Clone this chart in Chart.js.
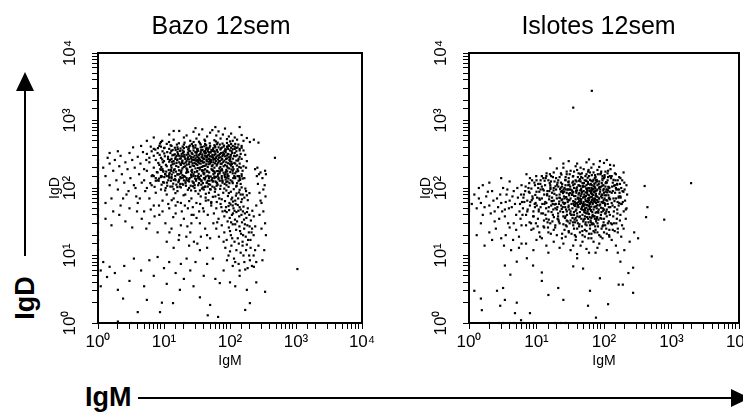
<!DOCTYPE html>
<html>
<head>
<meta charset="utf-8">
<script src="https://cdn.jsdelivr.net/npm/chart.js@4.4.1/dist/chart.umd.min.js"></script>
<style>
  html, body { margin: 0; padding: 0; background: #fff; }
  body { width: 743px; height: 412px; position: relative; overflow: hidden; font-family: "Liberation Sans", Arial, sans-serif; }
  canvas { position: absolute; top: 0; }
  #bazo { left: 40px; }
  #islotes { left: 411px; }
  .big { position: absolute; font-weight: bold; font-size: 27px; line-height: 30px; color: #000; white-space: nowrap; }
  #bigIgD { left: 25px; top: 298px; transform: translate(-50%, -50%) rotate(-90deg); }
  #bigIgM { left: 85px; top: 382px; }
  svg { position: absolute; left: 0; top: 0; }
</style>
</head>
<body>
<canvas id="bazo" width="362" height="375"></canvas>
<canvas id="islotes" width="375" height="375"></canvas>
<div class="big" id="bigIgD">IgD</div>
<div class="big" id="bigIgM">IgM</div>
<svg width="743" height="412">
  <line x1="25" y1="256" x2="25" y2="86" stroke="#000" stroke-width="2"/>
  <polygon points="25,72 16,91 34,91" fill="#000"/>
  <line x1="138" y1="398" x2="734" y2="398" stroke="#000" stroke-width="2"/>
  <polygon points="750,398 731,389 731,407" fill="#000"/>
</svg>
<script>
// tick values and labels (same for both axes)
const decadeTicks = [1, 10, 100, 1000, 10000];
const decadeLabels = ["10\u2070", "10\u00b9", "10\u00b2", "10\u00b3", "10\u2074"];
const titles = ["Bazo 12sem", "Islotes 12sem"];

// Bazo 12sem: [IgM, IgD]
const bazo = [
  // dense core
  [11,210],[11.5,290],[12,245],[12.5,330],[13,200],[13,270],[13.5,225],[14,310],[14,250],[14.5,190],
  [15,285],[15.5,235],[16,340],[16,265],[16.5,205],[17,300],[17,240],[17.5,355],[18,220],[18,275],
  [18.5,320],[19,195],[19,255],[19.5,295],[20,230],[20,345],[21,270],[21,210],[22,310],[22,250],
  [22.5,188],[23,285],[23,335],[24,225],[24,265],[24.5,300],[25,350],[25,205],[26,245],[26,290],
  [27,320],[27,215],[28,260],[28,360],[29,235],[29,300],[30,195],[30,275],[31,330],[31,250],
  [32,220],[32,290],[33,355],[33,240],[34,270],[34,310],[35,200],[35,260],[36,340],[36,230],
  [37,285],[38,250],[38,315],[39,210],[40,275],[40,345],[41,240],[42,300],[42,190],[43,330],
  [44,260],[44,225],[45,290],[46,355],[46,205],[47,270],[48,315],[48,245],[50,230],[50,295],
  [51,340],[52,260],[53,210],[54,310],[55,280],[56,240],[57,350],[58,200],[59,270],[60,320],
  [61,250],[62,290],[64,225],[65,340],[66,265],[68,305],[69,195],[70,250],[72,285],[73,330],
  [75,230],[76,270],[78,310],[80,210],[82,255],[84,295],[86,340],[88,240],[90,275],[92,200],
  [95,315],[98,260],[100,225],[102,290],[105,245],[108,330],[110,205],[12,380],[18,175],[26,180],
  [38,178],[55,182],[70,175],[88,185],[15,365],[32,370],[47,380],[63,365],[85,375],[100,360],
  [8.2,235],[8.6,310],[9.1,205],[9.4,265],[9.8,175],[10.3,295],[10.7,220],[11.2,340],[11.8,185],[12.3,260],
  [12.8,215],[13.4,305],[13.9,170],[14.3,230],[14.8,270],[8.8,190],[10.1,325],[11.5,270],[12.9,355],[14.6,315],
  [9.6,240],[13.2,245],
  [15.3,212],[15.8,258],[16.3,318],[16.9,183],[17.4,272],[17.8,228],[18.3,296],[18.9,248],[19.4,332],[19.9,205],
  [20.6,286],[21.3,238],[21.9,195],[22.7,268],[23.4,316],[24.2,242],[24.8,205],[25.6,275],[26.3,328],[27.1,232],
  [27.8,283],[28.6,212],[29.3,258],[29.8,340],[16.2,375],[19.2,410],[23.7,385],[27.4,420],[17.1,160],[21.7,168],
  [25.9,155],[29.1,172],[15.6,300],[18.7,235],[22.1,222],[26.7,262],[20.3,310],[24.1,355],
  [30.4,228],[31.2,306],[31.9,262],[32.7,198],[33.5,282],[34.3,232],[35.2,318],[36.1,252],[37.3,205],[38.2,296],
  [39.1,238],[40.2,268],[41.4,325],[42.6,215],[43.7,282],[44.9,248],[46.2,305],[47.6,225],[48.8,272],[50.3,335],
  [51.7,242],[53.2,290],[54.6,218],[56.1,262],[57.8,308],[59.2,232],[34.8,188],[39.8,182],[45.5,176],[52.4,190],
  [58.5,175],[32.2,380],[37.8,405],[43.2,375],[49.1,398],[55.3,372],[31.5,345],[36.7,365],[42.1,352],[47.3,340],
  [53.7,355],[58.9,345],[33.1,250],[38.7,275],[44.2,295],[49.7,258],[55.8,285],[40.6,212],
  [61.3,275],[62.8,215],[64.7,302],[66.2,238],[68.1,282],[70.3,318],[72.2,228],[74.6,262],[76.8,296],[79.2,242],
  [81.7,320],[84.3,218],[87.2,268],[90.1,302],[93.4,232],[96.7,285],[99.8,248],[103,310],[107,228],[111,272],
  [116,235],[121,295],[127,215],[133,255],[140,290],[146,200],[65.4,178],[75.3,190],[86.1,172],[97.4,195],
  [110,180],[63.6,360],[72.9,385],[82.6,352],[94.1,378],[106,350],[118,330],[128,305],[68.7,250],[78.3,335],
  [89.7,210],[101,270],[113,190],[125,255],[138,205],[71.5,205],[92.3,320],[104,215],
  // lower half of the band
  [8.3,128],[9.2,112],[10.1,145],[11.1,120],[12.2,168],[13.4,105],[14.7,135],[16.1,158],[17.6,115],[19.3,142],
  [21.2,125],[23.2,172],[25.4,108],[27.9,150],[30.6,128],[33.5,162],[36.7,112],[40.2,140],[44.1,120],[48.3,170],
  [53,132],[58,148],[63.6,118],[69.7,165],[76.4,130],[83.7,145],[91.7,160],[9.7,178],[12.8,185],[15.2,175],
  [18.4,182],[22.3,176],[26.7,186],[31.8,178],[37.9,184],[45.1,176],[53.8,186],[64,178],[76.2,182],[90.8,176],
  [10.6,100],[14,96],[18,102],[23,94],[29,100],[35,92],[42,104],[50,96],[20,130],[28,118],
  [35,135],[46,152],[60,125],[75,150],[88,122],[11.8,150],[16.8,128],[24.5,140],[32.5,150],[41,165],
  [6.2,118],[6.7,155],[7.2,104],[7.8,172],[8.4,138],[9,186],[9.7,122],[10.4,160],[11.2,108],[12,142],
  [12.9,178],[13.8,116],[14.8,150],[15.9,103],[17,133],[18.2,168],[19.5,112],[20.9,147],[22.4,185],[24,125],
  [25.7,157],[27.5,106],[29.5,138],[31.6,175],[33.8,118],[36.2,152],[38.8,102],[41.5,134],[44.5,180],[47.6,114],
  [51,148],[54.7,126],[58.6,166],[62.7,108],[67.2,142],[72,183],[77.1,120],[82.6,155],[88.5,110],[94.8,138],
  [101,172],[108,125],[116,150],[124,105],[133,178],[142,132],[150,160],[7.5,128],[9.3,148],[11.6,130],
  [14.2,185],[16.5,122],[19,155],[22,132],[26.5,170],[30,150],[34.5,135],[39.5,168],[43,148],[49,128],
  [56,178],[61,145],[70,128],[80,168],[92,150],[105,188],[120,165],[137,150],[10.8,175],[13.1,158],
  [17.7,145],[21.5,108],[28.2,120],[37,126],[46,105],[66,160],[86,133],[98,118],[112,140],[128,118],
  // upper half of the band
  [6.3,410],[7.4,370],[8.7,455],[10.2,395],[11.9,480],[13.5,365],[15.7,440],[17.8,385],[20.5,470],[23.3,372],
  [26.4,450],[29.9,398],[33.9,485],[38.4,368],[43.5,430],[49.3,460],[55.8,388],[63.2,445],[71.6,372],[81.1,425],
  [91.9,392],[104,450],[118,410],[134,440],[150,395],[9.4,500],[14.6,395],[19.1,360],[24.8,425],[31.8,375],
  [40.8,415],[52.4,365],[67.2,400],[86.3,368],[110,375],[140,360],[12.6,430],[22,405],[36,440],[46,385],
  [59,415],[77,455],[97,420],[125,390],[16.8,460],[28.1,480],[61,490],[100,490],[8.1,390],[42,500],
  // band around the core
  [5.5,180],[6,240],[6.5,150],[7,300],[7,200],[7.5,260],[8,170],[8,330],[8.5,220],[9,280],
  [9,145],[9.5,190],[10,250],[10,390],[10.5,160],[6,280],[7,380],[8.5,420],[9.5,350],[11,150],
  [13,140],[16,160],[20,150],[24,135],[28,160],[34,145],[40,160],[48,140],[56,160],[65,150],
  [75,140],[85,160],[95,150],[110,165],[120,140],[130,190],[140,230],[150,270],[160,210],[170,310],
  [180,250],[115,300],[125,350],[135,270],[145,320],[155,180],[120,230],[130,400],[110,420],[95,430],
  [80,410],[70,440],[60,400],[50,420],[42,450],[36,400],[30,430],[24,410],[20,440],[16,400],
  [13,420],[11,450],[28,395],[44,395],[58,430],[75,395],[90,410],[104,395],[118,380],[140,380],
  [160,360],[175,200],[150,150],[165,140],[140,140],[20,390],[35,460],[65,470],[90,465],[120,450],
  [150,420],[125,175],[5.5,320],[6.5,350],[7.5,140],[9,410],[12,160],[14,132],
  // upper sparse
  [5.5,500],[7,560],[9,480],[12,620],[14,520],[17,700],[20,560],[22,600],[25,500],[28,680],
  [31,540],[34,620],[38,740],[41,520],[45,580],[50,660],[54,720],[58,510],[62,600],[67,690],
  [72,540],[78,620],[84,760],[90,530],[96,580],[104,640],[110,500],[118,560],[128,520],[140,800],
  [150,610],[160,500],[180,550],[200,480],[230,520],[270,470],[60,800],[30,770],[14,700],
  // far left, incl. pile-up on the axis
  [1,260],[1,230],[1,200],[1,180],[1,160],[1,140],[1,120],[1,100],[1,85],[1,70],
  [1,58],[1,48],[1,38],[1,30],[1,22],[1,17],[1,12],[1,9],
  [1.2,200],[1.3,150],[1.4,280],[1.5,230],[1.5,110],[1.6,70],[1.7,180],[1.8,260],[1.9,130],[2,95],
  [2.1,210],[2.2,300],[2.3,160],[2.4,70],[2.5,120],[2.6,240],[2.8,190],[2.9,90],[3,330],[3.1,140],
  [3.3,260],[3.4,400],[3.5,110],[3.6,200],[3.8,75],[4,290],[4.2,160],[4.4,230],[4.6,120],[4.8,340],
  [5,190],[5.2,90],[5.4,260],[1.3,60],[1.7,45],[2.2,55],[3,50],[4,60],[5,45],[2,350],
  [4.5,420],[1.5,330],[2.7,80],[3.7,100],[4.3,70],
  [1.3,35],[1.6,28],[2.1,40],[2.6,32],[3.3,26],[3.9,45],[4.6,35],[5.4,25],[6.3,48],[7.2,38],
  [8.4,55],[9.5,45],
  // middle sparse
  [5,130],[5.5,100],[6,70],[6.5,110],[7,55],[7.5,85],[8,130],[8.5,40],[9,95],[9.5,65],
  [10,120],[10.5,30],[11,80],[12,50],[12.5,105],[13,25],[14,70],[15,130],[15,42],[16,90],
  [17,20],[18,60],[19,115],[20,35],[21,80],[22,140],[23,50],[24,100],[25,22],[26,70],
  [27,125],[28,40],[30,90],[31,60],[32,15],[33,110],[35,30],[36,75],[37,130],[39,50],
  [40,95],[42,25],[43,65],[45,120],[46,40],[48,85],[50,18],[52,60],[54,105],[56,30],
  [58,140],[60,75],[6,30],[8,22],[11,16],[14,13],[18,28],[24,14],[35,12],[45,13],
  [7,150],[9,150],[13,145],[18,140],[26,145],[33,140],[15,55],[26,30],[42,140],[55,125],
  [10.4,92],[11.6,58],[12.7,128],[13.8,37],[14.9,84],[16.1,62],[17.3,105],[18.6,45],[19.8,78],[21.2,118],
  [22.6,27],[24.1,64],[25.7,92],[27.3,52],[29.2,110],[31.1,36],[33.2,82],[35.3,58],[37.6,98],[40.1,45],
  [42.7,72],[44.9,20],[12.1,22],[16.7,17],[21.8,19],[28.4,16],[36.2,19],[15.4,112],[23.3,128],[30.7,135],
  [38.8,118],[13.1,66],[20.7,55],[34.1,45],[26.2,40],
  // diagonal IgM-high group
  [42,105],[46,128],[50,112],[54,140],[58,102],[62,122],[67,135],[72,108],[77,126],[83,115],
  [89,142],[95,104],[102,130],[110,118],[118,145],[126,108],[135,128],[145,115],[155,138],[48,148],
  [65,112],[92,125],[130,150],[150,102],
  [43,82],[47,66],[51,95],[55,74],[59,88],[63,62],[67,79],[71,97],[75,68],[79,85],
  [84,64],[88,92],[93,76],[98,60],[103,88],[108,72],[114,96],[120,65],[126,83],[133,70],
  [140,94],[148,62],[156,80],[165,72],[175,90],[186,66],[197,84],[52,62],[69,70],[82,98],
  [96,84],[111,63],[123,77],[137,86],[152,68],[171,98],[60,96],[105,68],[145,80],[180,78],
  [52,55],[57,42],[62,50],[67,35],[72,58],[77,45],[82,38],[87,52],[92,32],[97,47],
  [102,57],[107,40],[113,50],[119,34],[125,44],[131,56],[138,38],[145,48],[152,31],[160,53],
  [168,42],[177,36],[186,50],[196,40],[207,33],[218,46],[229,38],[64,31],[74,52],[89,44],
  [99,36],[111,42],[122,58],[134,46],[149,40],[163,34],[181,44],[95,54],[140,52],[117,46],
  [104,31],[84,46],[128,32],[157,45],[110,55],
  [62,25],[68,19],[75,28],[82,22],[89,17],[96,26],[103,20],[110,29],[117,16],[124,24],
  [131,18],[139,27],[147,21],[155,16],[164,25],[173,19],[183,28],[193,22],[204,17],[216,25],
  [228,20],[241,27],[80,16],[100,23],[120,29],[142,23],[168,29],[198,27],[108,18],[136,15],
  [158,20],[188,17],[212,22],
  [85,13],[95,10],[105,14],[115,9],[125,12],[135,7.5],[145,11],[155,14],[165,8],[175,12],
  [185,6.5],[195,10],[205,13],[215,7],[228,10],[240,12],[250,8],[140,6],[170,6.2],[120,8],
  [200,8.5],[160,10],[230,6.8],[100,11.5],[180,14.5],[110,7],
  [240,190],[255,150],[265,115],[280,85],[300,60],[320,45],[340,30],[350,20],[330,12],[310,8.5],
  [260,200],[290,170],[310,140],[335,110],[345,75],[280,40],[300,25],[270,14],[250,55],[275,160],
  [320,95],[290,65],[350,160],[340,180],
  // lower sparse
  [1.37,4.8],[1.5,6.8],[2,3.1],[2.4,2.3],[4,1.45],[5.5,2.2],[8.7,1.45],[9.3,2],[13.7,1.97],[17.4,3.1],
  [35,2.4],[46,1.3],[66,1.23],[50,1.85],[70,3.9],[100,4],[170,1.56],[200,1.97],[340,2.9],[180,3.1],
  [1.2,8],[1.8,5.5],[2.5,7],[3,4.2],[3.5,9],[4.5,6],[5,3.5],[6,8.5],[7,5],[8,9.5],
  [10,6.5],[11,3.8],[12,8],[15,5.5],[18,7.5],[20,4.5],[22,9],[25,6],[28,3.5],[30,8],
  [40,5],[45,7.5],[55,9],[60,4.5],[80,6],[90,8.5],[120,3.5],[140,5],[250,4],[1,1],
  [2,1.05],[3.2,1],[6,1],[20,1],[60,1],[1.1,6],[1.1,3.5],
  // outliers
  [480,280],[1050,6.3]
];

// Islotes 12sem: [IgM, IgD]
const islotes = [
  // darkest centre
  [32,45],[32,70],[33,58],[34,82],[34,50],[35,64],[36,40],[36,76],[37,54],[38,68],
  [38,46],[39,85],[40,60],[40,42],[41,72],[42,52],[42,80],[43,64],[44,44],[44,58],
  [45,76],[46,49],[46,68],[47,86],[48,55],[48,40],[49,72],[50,62],[50,47],[51,80],
  [52,57],[53,43],[53,68],[54,76],[55,51],[56,63],[56,85],[57,45],[58,70],[59,55],
  [60,78],[60,41],[61,60],[62,49],[63,73],[64,84],[65,53],[66,66],[67,44],[68,58],
  [69,79],[70,48],[71,64],[72,86],[73,53],[74,70],[75,43],[76,60],[77,76],[78,50],
  [79,66],[80,56],[33,40],[35,87],[37,62],[39,48],[41,56],[43,84],[45,66],[47,52],
  [49,58],[51,44],[52,74],[54,64],[55,42],[57,80],[58,48],[60,66],[62,58],[64,46],
  [66,74],[68,40],[70,70],[72,52],[74,62],[76,82],[78,44],[80,74],[36,56],[44,70],
  [52,50],[60,54],[68,68],[42,62],[58,62],[50,54],[46,60],[64,62],[38,58],[56,56],
  // broad dense area
  [15.4,68],[16.7,44],[17.9,92],[18.6,57],[19.8,78],[20.9,38],[21.7,63],[22.8,101],[23.6,49],[24.7,84],
  [25.8,58],[26.4,36],[27.6,73],[28.9,95],[29.7,52],[30.8,66],[31.6,105],[32.9,40],[34.1,88],[35.4,59],
  [36.6,34],[37.7,76],[38.9,98],[40.3,53],[41.6,69],[43.1,37],[44.4,92],[45.7,63],[47.2,48],[48.6,104],
  [50.1,74],[51.8,35],[53.4,86],[55.1,56],[56.7,99],[58.4,42],[60.2,71],[62.1,90],[64.1,47],[66.2,81],
  [68.3,61],[70.4,106],[72.6,38],[74.9,77],[77.3,54],[79.8,95],[82.3,43],[84.9,70],[87.6,88],[90.4,51],
  [93.2,79],[96.1,62],[99.1,97],[17.2,32],[19.1,106],[22.2,71],[25.1,95],[28.1,45],[33.7,79],[39.5,33],
  [42.4,109],[46.3,81],[52.6,47],[57.9,65],[63.2,33],[67.4,94],[73.5,67],[78.6,36],[85.7,104],[91.8,35],
  [97.3,46],[20.4,52],[26.9,110],[35.9,44],[49.4,58],[61.4,52],[71.3,88],[83.1,63],[94.6,108],[30.2,82],
  [6.4,72],[6.9,105],[7.3,45],[7.7,88],[8.1,62],[8.6,130],[9.1,38],[9.6,79],[10.1,55],[10.6,115],
  [11.2,67],[11.8,42],[12.4,96],[13.1,58],[13.7,140],[14.4,81],[15.2,34],[16.1,102],[16.9,64],[6.2,40],
  [7.1,160],[8.4,98],[9.9,150],[11.5,130],[13.4,110],[15.8,160],[7.9,31],[10.4,27],[12.9,33],[14.8,26],
  [8.8,70],[11,88],[12,70],[13.9,50],[15.5,90],[16.4,125],[9.4,58],[10.8,48],[12.6,140],[14.1,165],
  [17.5,145],[20.5,120],[23.4,158],[26.6,132],[30.5,112],[34.6,148],[39.2,125],[44.6,160],[50.5,118],[57.3,142],
  [65,128],[73.7,155],[83.6,115],[94.8,138],[107.5,122],[121.9,150],[138.3,132],[156.8,112],[168,145],[62,170],
  [28,175],[40,185],[90,165],[115,180],[48,140],[78,132],[102,145],[35,125],[145,165],[55,128],
  [101,60],[106,42],[112,95],[118,70],[124,52],[130,85],[137,38],[143,64],[150,100],[157,48],
  [164,72],[172,33],[180,58],[188,90],[196,45],[126,30],[141,108],[167,95],[107,78],[134,55],
  [152,30],[119,102],[175,75],[104,28],[159,62],
  [8.4,24],[9.8,30],[11.3,19],[12.7,27],[14.6,31],[16.3,21],[18.9,26],[21.4,32],[23.8,18],[27.2,28],
  [30.1,22],[34.6,31],[38.3,19],[42.7,27],[47.8,23],[53.5,31],[58.9,18],[66.4,29],[72.8,22],[81.5,27],
  [89.3,19],[98.6,31],[108,25],[119,20],[131,29],[144,23],[36,25],[62,25],[95,27],[28,33],
  // rest of the core
  [14,60],[14.5,90],[15,45],[15.5,75],[16,110],[16.5,55],[17,85],[17.5,40],[18,65],[18.5,125],
  [19,50],[19.5,95],[20,70],[20.5,35],[21,105],[21.5,58],[22,80],[22.5,45],[23,120],[23.5,66],
  [24,90],[24.5,52],[25,38],[25.5,75],[26,100],[26.5,60],[27,130],[27.5,48],[28,85],[28.5,68],
  [29,32],[29.5,110],[30,55],[30.5,78],[31,95],[31.5,42],[14,35],[16,30],[19,28],[22,30],
  [25,29],[28,27],[31,30],[15,130],[18,100],[21,130],[24,115],[27,95],[30,125],[17,72],
  [20,48],[23,88],[26,70],[29,62],
  [32,95],[34,120],[36,100],[38,130],[40,92],[42,110],[44,135],[46,98],[48,118],[50,90],
  [52,105],[54,128],[56,94],[58,115],[60,100],[62,132],[64,92],[66,110],[68,125],[70,96],
  [72,115],[74,100],[76,130],[78,92],[80,110],[35,110],[45,125],[55,110],[65,100],[75,120],
  [32,33],[35,28],[38,36],[41,30],[44,38],[47,27],[50,34],[53,29],[56,37],[59,31],
  [62,28],[65,36],[68,30],[71,38],[74,27],[77,34],[80,30],
  [82,45],[84,70],[86,55],[88,95],[90,40],[92,62],[94,80],[96,50],[98,110],[100,35],
  [102,70],[104,58],[106,88],[108,45],[110,120],[112,65],[114,30],[116,78],[118,52],[120,100],
  [122,40],[123,68],[85,125],[95,130],[105,105],[115,92],[90,75],[100,85],[110,48],[83,34],
  [97,28],[118,32],
  [14.3,78],[15.2,52],[16.1,97],[16.8,64],[17.7,48],[18.4,82],[19.3,58],[20.2,112],[20.9,42],[21.8,72],
  [22.4,96],[23.2,55],[24.1,68],[24.8,44],[25.7,88],[26.6,52],[27.4,73],[28.3,40],[29.1,95],[29.8,66],
  [30.6,48],[31.4,84],[15.7,118],[18.1,37],[21.1,34],[23.9,105],[26.9,38],[29.6,122],[17.4,58],[24.6,61],
  [81.4,62],[83.6,48],[85.7,82],[87.8,57],[89.6,104],[91.8,44],[93.7,72],[95.8,60],[97.6,92],[99.7,48],
  [101.8,78],[103.7,55],[105.8,118],[107.9,66],[109.7,38],[111.8,86],[113.7,58],[115.8,104],[117.9,44],[119.6,72],
  [121.8,88],[84.7,100],[92.6,118],[103.2,42],[113.1,130],[88.6,36],[98.8,66],[108.4,95],
  [33.6,92],[36.7,115],[39.8,102],[42.7,128],[45.7,94],[48.7,108],[51.7,130],[54.6,98],[57.7,122],[60.7,92],
  [63.7,115],[66.7,98],[69.7,132],[72.7,105],[75.7,92],[78.7,125],[34.2,36],[37.2,31],[40.2,38],[43.2,29],
  [46.2,35],[49.2,32],[52.2,38],[55.2,28],[58.2,35],[61.2,37],[64.2,31],[67.2,38],[70.2,29],[73.2,35],
  [76.2,32],[79.2,37],[38.5,90],[47.5,88],[56.5,89],[65.5,88],[74.5,90],[44.5,107],[62.5,112],
  // band around the core
  [6.3,50],[6.5,80],[7,40],[7.3,65],[7.6,100],[8,55],[8.3,30],[8.7,75],[9,45],[9.3,120],
  [9.7,60],[10,88],[10.5,35],[11,70],[11.5,52],[12,105],[12.5,42],[13,80],[13.5,62],[7,28],
  [9,25],[11,22],[13,26],[8,140],[10,130],[12,150],[6.8,90],[9.5,110],[11.5,95],
  [14,150],[18,170],[22,145],[25,200],[28,160],[32,180],[35,150],[38,210],[42,165],[46,145],
  [50,190],[55,160],[60,150],[65,200],[70,170],[75,145],[80,185],[88,160],[95,150],[105,175],
  [115,145],[125,190],[20,195],[45,200],[85,205],[30,140],[58,175],[100,140],
  [130,60],[135,90],[140,45],[145,110],[150,70],[155,35],[160,130],[165,55],[170,85],[175,40],
  [180,100],[190,62],[200,120],[210,48],[220,80],[130,150],[150,160],[175,140],[195,170],[215,110],
  [140,30],[160,25],[185,28],[135,120],[160,95],
  [15,22],[20,20],[26,24],[33,21],[40,25],[48,20],[55,23],[65,21],[75,24],[85,20],
  [100,22],[120,24],
  [6.6,62],[7.4,48],[7.9,85],[8.5,66],[8.9,38],[9.5,52],[10.2,72],[10.8,45],[11.4,115],[12.2,58],
  [12.8,92],[13.6,40],[7.8,118],[10.6,100],[13.2,128],[16.5,150],[19.5,140],[23,165],[27,145],[31,160],
  [36,175],[41,145],[47,165],[53,150],[59,185],[66,155],[73,140],[81,160],[91,175],[102,155],
  [113,165],[127,140],[138,70],[144,52],[152,95],[158,42],[166,75],[172,115],[183,58],[194,88],
  [205,65],[216,50],[132,105],[148,130],[168,60],[186,130],[202,95],[146,85],[156,115],[176,72],
  [18,24],[24,21],[30,23],[37,20],[44,22],[52,24],[60,21],[70,23],[80,22],[92,25],
  [110,21],[135,24],[160,22],[195,25],[210,35],
  // upper edge
  [16,275],[30,250],[87,250],[123,220],[40,230],[55,240],[70,225],[100,235],[25,230],[60,265],
  [140,215],[110,260],
  // far left, incl. pile-up on the axis
  [1,76],[1,68],[1,60],[1,54],[1,48],[1,45],[1,9],[1,7],
  [1.2,80],[1.3,50],[1.4,100],[1.5,60],[1.6,40],[1.8,75],[2,55],[2.2,90],[2.4,45],[2.6,70],
  [2.8,35],[3,60],[3.2,100],[3.4,48],[3.6,80],[3.8,30],[4,65],[4.3,52],[4.6,90],[5,40],
  [5.3,72],[5.7,58],[6,110],[1.5,30],[2,22],[2.5,25],[3,18],[3.5,20],[4,26],[4.5,17],
  [5,24],[5.5,19],[6,28],[1.3,20],[1.7,14],[2.2,17],[3.3,14],[4.2,12],[5.5,13],[6,15],
  [2,120],[3,140],[4,125],
  [1.1,58],[1.4,70],[1.7,52],[1.9,88],[2.1,42],[2.3,65],[2.7,52],[2.9,80],[3.1,45],[3.5,62],
  [3.7,95],[3.9,50],[4.4,75],[4.8,58],[5.2,100],[5.6,45],[5.9,80],[6.1,62],[1.6,110],[2.4,32],
  [3.4,38],[4.6,30],[5.8,35],
  // middle sparse
  [7,15],[9,12],[12,18],[15,11],[18,16],[22,13],[27,19],[32,12],[38,17],[45,14],
  [52,19],[60,11],[70,16],[80,13],[95,18],[110,12],[130,17],[150,14],[180,19],[200,12],
  [240,16],[10,17],[14,14],[25,15],[35,14],[48,16],[65,18],[85,15],[120,19],[160,11],
  [40,10.5],[55,12.5],[75,11],
  // lower sparse
  [1.2,3],[1.5,2.3],[1.55,1.55],[2.6,3],[3.2,3.3],[2.9,1.8],[3.4,2.2],[5.1,2],[4.8,1.4],[5.9,1.1],
  [8,1.4],[4.1,5.2],[5.1,8.1],[3.4,7.1],[7.2,9.1],[8.9,7.1],[12,4.2],[12,5.6],[15,2.6],[21,3.3],
  [25,2.2],[58,1.8],[62,3],[76,1.2],[115,1.9],[165,3.7],[190,3.7],[270,2.8],[230,5.5],[270,6.6],
  [175,8.1],[87,4.6],[35,6.9],[49,6.4],[40,9.1],
  [2,1],[2.8,1],[3.2,1],[4,1],[4.7,1],[6.2,1],[9.1,1],[19,1],[23,1],[27,1],
  // outliers
  [66,2750],[35,1550],[1950,118],[780,34],[510,9.7],[400,107],[440,52],[420,37],[320,18],[280,22]
];

const boxPlugin = {
  id: "box",
  afterDraw(chart) {
    const { ctx, chartArea: a } = chart;
    ctx.save();
    ctx.strokeStyle = "#000";
    ctx.lineWidth = 2;
    ctx.strokeRect(a.left, a.top, a.right - a.left, a.bottom - a.top);
    ctx.restore();
  },
};

function tickLabel(value) {
  const i = decadeTicks.indexOf(value);
  return i >= 0 ? decadeLabels[i] : "";
}

const tickFont = { family: "'Liberation Sans Narrow', 'Liberation Sans', Arial", size: 17 };
const axisTitleFont = { family: "'Liberation Sans', Arial", size: 14 };

function dotPlot(id, title, points, rightSpace) {
  new Chart(document.getElementById(id), {
    type: "scatter",
    data: {
      datasets: [
        {
          data: points.map((p) => ({ x: p[0], y: p[1] })),
          pointStyle: "rect",
          pointRadius: 1.55,
          pointBorderWidth: 0,
          backgroundColor: "#000",
          clip: false,
        },
      ],
    },
    options: {
      responsive: false,
      animation: false,
      devicePixelRatio: 1,
      events: [],
      plugins: {
        legend: { display: false },
        tooltip: { enabled: false },
        title: {
          display: true,
          text: title,
          color: "#000",
          font: { family: "'Liberation Sans', Arial", size: 25, weight: "normal", lineHeight: 1.2 },
          padding: { top: 12, bottom: 11 },
        },
      },
      scales: {
        x: {
          type: "logarithmic",
          position: "bottom",
          min: 1,
          max: 10000,
          afterFit: (s) => { s.height = 52; },
          ticks: { autoSkip: false, maxRotation: 0, minRotation: 0, padding: 3, color: "#000", font: tickFont, callback: tickLabel },
          grid: { drawOnChartArea: false, tickLength: 6, color: "#000" },
          border: { color: "#000", width: 2 },
          title: { display: true, text: "IgM", color: "#000", font: axisTitleFont, padding: { top: 0, bottom: 5 } },
        },
        y: {
          type: "logarithmic",
          position: "left",
          min: 1,
          max: 10000,
          afterFit: (s) => { s.width = 58; },
          ticks: { autoSkip: false, minRotation: 90, maxRotation: 90, crossAlign: "center", padding: 9, color: "#000", font: tickFont, callback: tickLabel },
          grid: { drawOnChartArea: false, tickLength: 6, color: "#000" },
          border: { color: "#000", width: 2 },
          title: { display: true, text: "IgD", color: "#000", font: axisTitleFont, padding: { top: 7, bottom: 0 } },
        },
        spacer: {
          type: "linear",
          position: "right",
          afterFit: (s) => { s.width = rightSpace; },
          ticks: { display: false },
          grid: { display: false },
          border: { display: false },
        },
      },
    },
    plugins: [boxPlugin],
  });
}

dotPlot("bazo", titles[0], bazo, 40);
dotPlot("islotes", titles[1], islotes, 47);
</script>
</body>
</html>
